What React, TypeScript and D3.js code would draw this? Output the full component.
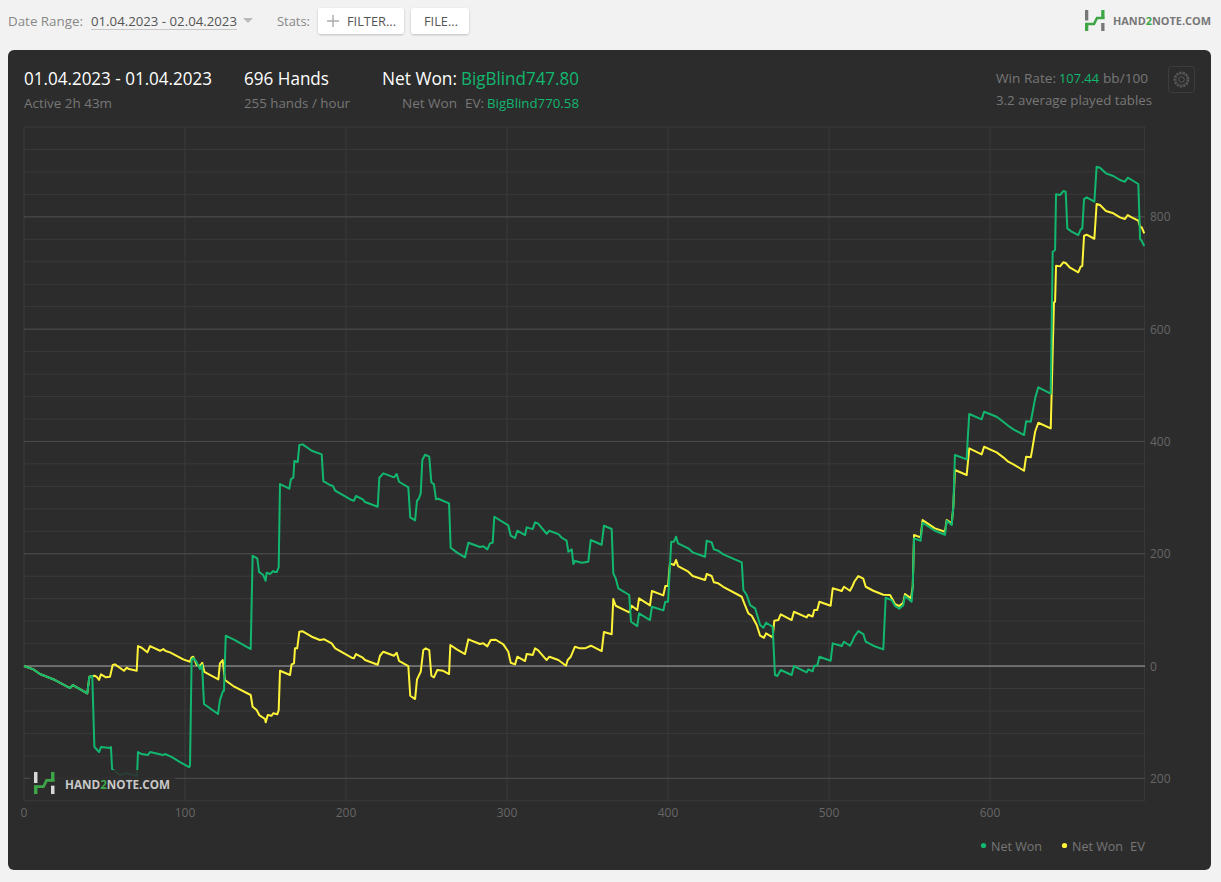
import React from "react";
import * as d3 from "d3";

const sharedStart: [number, number][] = [[0,0],[5.8,-5.9],[9.9,-14.2],[19.3,-24.9],[28.6,-39.2],[30.4,-33.8],[39.3,-48.6],[40.6,-19.1],[42.4,-17.8]];

const netWon: [number, number][] = [...sharedStart,
[43.7,-143.7],[46.6,-153.2],[47.8,-144.3],[53.4,-146],[54,-144.3],[54.7,-183.4],[59.6,-194.1],[63.4,-190.6],[65.8,-192.3],[70.2,-195.9],[70.8,-153.2],[73.1,-156.7],[77,-158.5],[78.3,-153.2],[86.3,-158.5],[87.6,-156.7],[91.9,-162.1],[96.9,-171],[102.5,-179.9],[103.1,-178.1],[104.1,10.7],[105,14.2],[106.8,8.9],[109.3,-5.3],[110.6,1.8],[111.8,-67.7],[120.5,-85.5],[121.7,-60.6],[123.6,-44.5],[124.2,-44.5],[125.3,54],[131,46.3],[140.8,30.3],[142,196.4],[144.9,191.8],[146,167.4],[148.6,162.1],[150.1,151.9],[150.7,166.2],[152.8,163.9],[154.8,169.2],[155.9,167.4],[157,167.4],[158.2,176.3],[159,324.1],[164.8,315.8],[165.8,333],[167.3,335.4],[167.9,365.1],[170,363.3],[171,393.6],[173.1,394.8],[178.7,383.4],[184.9,377],[185.9,329.5],[190,322.4],[191.9,320.6],[193.3,312.2],[203.5,295.6],[204.9,294.4],[206.2,302.8],[210.4,296.9],[211.8,292.1],[219.7,283.7],[220.7,335.4],[223.2,343.2],[229.8,336.1],[231.5,342],[232.9,328.2],[238.7,318.3],[239.9,264.8],[242.9,259.5],[244.1,294.4],[245.1,297.4],[246.4,307.6],[247.4,366.9],[249.1,376.3],[251.7,372.8],[253,327.2],[254.6,323.6],[255.9,296.9],[257.3,298],[264,289.8],[265,210.7],[268.8,202.5],[273.9,193.6],[276,219.6],[283.2,211.9],[285.3,213.2],[287.8,207.8],[289.4,218.5],[291.1,219.6],[292.1,265.9],[300.8,250.6],[302.3,232.1],[305,228],[306.4,241],[311.2,233.3],[312.2,247],[314.3,245.2],[316,244],[317.4,255.9],[319.2,254.1],[324.6,235.6],[326.3,240.9],[331.9,235],[334,228.5],[337,223.2],[338.1,203.6],[340.2,207.8],[341.2,181.7],[342.2,187],[346.4,184],[350.5,185.8],[352,224.4],[358.8,216],[360.2,249.9],[365,244],[366,165.1],[367.5,156.2],[369.1,138.4],[375.9,126.5],[377,78.9],[380.9,71.2],[382,93.9],[388.8,81.9],[390,105.6],[397.1,99.2],[398.3,114.5],[400,114.5],[402,221.4],[403.7,221.4],[405,230.3],[406.2,218.5],[412.6,209.6],[415.3,202.5],[423,194.7],[424,223.2],[427.1,220.3],[428.5,207.8],[431.2,205.3],[434.3,198.9],[445.8,184.7],[446.8,135.4],[448.9,126.5],[451,108.6],[454.1,102.8],[457.2,73],[459.2,68.2],[460.9,77.1],[465,70],[466.4,-16],[467.9,-17.8],[470,-7.1],[476.8,-16],[478.2,0],[486.1,-11.2],[487.1,-5.9],[489.8,-9.4],[490.8,0.5],[492.7,0.5],[494,16.6],[501,9.4],[502.3,40.4],[507.9,35.6],[509.3,43.3],[513,36.2],[514.7,45.1],[515.7,52.2],[518.2,62.3],[521.3,57],[522.8,43.3],[527.5,36.2],[533.7,29.7],[535.2,121.6],[538.9,117.5],[541,106.9],[543.6,102],[546.1,108.1],[547.2,124.7],[551.3,114.5],[552,141.2],[552.8,227.4],[556.9,223.2],[558.1,255.2],[565.8,241],[572,233.8],[573.1,258.8],[576.2,251.1],[577.2,283.7],[578.2,375.8],[585.5,368.1],[586.1,402.5],[587.1,448.8],[594.8,439.4],[596.3,452.9],[604.1,444],[608.2,435.1],[611.3,428],[614.5,421.6],[621.1,411.4],[622.4,435.8],[625.3,435.1],[626.2,448.8],[628,476.8],[630,496.4],[637.7,485],[638.9,737.9],[640.4,740.9],[641,840.1],[643.5,838.9],[645.5,846],[647,844.7],[648,779.5],[650.1,774.7],[654.8,767.6],[656.3,777.8],[657.3,778.9],[658.4,831.7],[660,834.7],[664.8,826.9],[666.2,889.3],[668.3,887.5],[672,877.5],[676.6,872.7],[680.7,865.6],[683.8,862.6],[685.5,869.7],[688,865.6],[692.1,858.5],[693.2,760.5],[694.2,757.5],[695.8,747.8]];

const netWonEV: [number, number][] = [...sharedStart,
[44.1,-17.3],[45.3,-19.6],[46.6,-24.9],[47.8,-14.8],[50.9,-20.1],[53.4,-19.1],[55.1,1.8],[56.5,3],[62.1,-8.4],[63.8,-3],[65.2,-5.3],[70,-8.4],[70.8,35.6],[73.1,32.6],[76.6,24.4],[78.3,35.6],[84.5,27.2],[86.5,30.3],[88,26.7],[90.7,24.4],[98.9,11.9],[103.1,7.7],[104.1,15.5],[105.1,16.6],[107.3,1.8],[109.3,0],[110.7,5.9],[112,-10.2],[120.7,-23.7],[121.7,4.8],[123.4,10.7],[124.8,-24.9],[130,-35.6],[140.8,-51.6],[142,-72.5],[144.5,-78.4],[146.1,-87.3],[149.7,-94.4],[150.1,-100.3],[151.4,-87.3],[153.8,-88.5],[154.8,-84.2],[157.3,-86],[158.2,-78.4],[159,-8.4],[165.2,-16],[166.2,3],[167.7,4.8],[168.3,31.5],[169.7,31.5],[171,61.1],[173.1,61.8],[178.7,52.2],[183.8,46.3],[186.5,47.6],[191.1,40.4],[193.3,31.5],[203.5,14.8],[204.9,13.7],[206.2,21.4],[210.4,14.8],[211.8,10.7],[219.7,2.3],[221.1,18.3],[223.2,25.5],[229.8,18.3],[231.5,23.7],[232.9,9.4],[238.7,0],[239.9,-52.9],[242.9,-58.8],[244.1,-23.7],[246.4,-10.2],[248,28.5],[249.5,31.5],[251.7,28.5],[253,-17.3],[254.6,-20.1],[256.7,-7.1],[260.4,-8.4],[264,-14.2],[264.8,37.4],[268.8,29.7],[273.9,21.4],[276,47.6],[283.2,39.2],[285.3,40.4],[287.8,35.1],[289.9,46.3],[293,46.8],[297.7,38.6],[300.8,25.5],[302.3,5.9],[305,3],[306.4,16.6],[311.2,8.9],[312.2,21.4],[314.3,20.5],[316,19.6],[317.4,31.5],[319.2,28.5],[324.6,10.7],[326.3,16.6],[331.9,10.7],[336.6,0.5],[337.7,10.7],[339.6,16.6],[342.2,34.4],[345.3,31.5],[348.4,31.5],[352.1,36.2],[358.8,26.7],[360.2,60.6],[365,56.5],[366,119.3],[367.5,107.4],[375.9,95.6],[377.4,107.4],[380.9,99.7],[382,120.6],[388.8,108.1],[390,133.6],[397.1,125.9],[398.3,142.5],[400,142.5],[401.2,182.9],[403.7,179.9],[405,188.8],[406.2,178.1],[412.6,168],[415.3,160.3],[423,153.2],[424,163.9],[427.1,160.3],[428.5,149.1],[431.2,147.3],[434.3,141.2],[445.8,123.4],[447.8,108.6],[449.9,93.9],[452,89.6],[455.1,73],[457.2,54],[459.6,50.4],[460.9,58.2],[465,51.1],[466,80.7],[468.5,81.9],[470,92.1],[476.8,81.9],[478.2,96.7],[486.1,86.7],[487.1,91.4],[489.8,88.3],[490.8,99.7],[492.7,99.7],[494,114.5],[501,107.4],[502.3,138.4],[507.9,133.6],[509.3,141.2],[513,134.1],[514.7,143],[515.7,150.1],[518.2,160.3],[521.3,155.5],[522.8,141.2],[527.5,134.1],[533.7,127],[537.9,126.5],[541,110.4],[543.6,106.9],[546.1,112.7],[547.2,128.2],[550.9,120.6],[552,141.2],[552.8,233.3],[556.9,229.2],[558.1,260],[565.8,245.2],[572,239.2],[573.1,260],[576.2,254.1],[577.2,283.7],[578.2,349.1],[585.5,340.2],[587.1,387.7],[594.8,377],[596.3,390.6],[604.1,380.6],[608.2,371.7],[611.3,363.9],[614.5,359.2],[621.1,347.8],[622.4,372.8],[625.3,371.7],[626.2,385.9],[628,417.3],[630,433.3],[637.7,423.3],[639.7,647.7],[640.4,648.8],[641,712.9],[643.5,711.8],[645.5,719],[647,717.7],[649.7,709.4],[654.8,701.2],[656.3,711.2],[657.3,712.4],[658.4,766.4],[660,768.2],[664.8,761],[666.2,822.8],[668.3,821],[672,810.4],[676.6,806.3],[680.7,799.1],[683.8,796.1],[685.5,803.2],[688,799.1],[692.1,793.1],[693.2,782.4],[694.2,781.3],[695.8,770.6]];

const xTicks = [0, 100, 200, 300, 400, 500, 600];
const yMajor = [-200, 0, 200, 400, 600, 800];
const yMinor = d3.range(-240, 961, 40);

const GREEN = "#12b76f";
const YELLOW = "#fdf338";
const FONT = "'Open Sans', 'Noto Sans', sans-serif";

const x = d3.scaleLinear().domain([0, 696]).range([24, 1144.6]);
const y = d3.scaleLinear().domain([-240, 960]).range([800.8, 127]);
const line = d3.line<[number, number]>().x((d) => x(d[0])).y((d) => y(d[1])).curve(d3.curveLinear);

function T({ px, py, w, size = 13, fill = "#888", weight = 400, anchor, children }: any) {
  return (
    <text x={px} y={py} fontSize={size} fill={fill} fontWeight={weight} fontFamily={FONT} textAnchor={anchor}
      {...(w ? { textLength: w, lengthAdjust: "spacingAndGlyphs" } : {})}>
      {children}
    </text>
  );
}

function Logo({ px, py, s, bar }: { px: number; py: number; s: number; bar: string }) {
  const g = "#3fa648";
  return (
    <g transform={`translate(${px},${py}) scale(${s})`}>
      <rect x={0} y={0} width={3.3} height={10.5} fill={bar} />
      <rect x={0} y={13} width={3.3} height={8} fill={g} />
      <rect x={16.2} y={0} width={3.3} height={8.5} fill={g} />
      <rect x={16.2} y={13} width={3.3} height={8} fill={bar} />
      <path d="M0 14 L9 14 L12 8 L19.5 8" fill="none" stroke={g} strokeWidth={2.6} />
    </g>
  );
}

export default function App() {
  return (
    <svg width={1221} height={882} style={{ position: "fixed", left: 0, top: 0, display: "block" }}>
      <defs>
        <filter id="btn" x="-10%" y="-20%" width="120%" height="150%">
          <feDropShadow dx="0" dy="1" stdDeviation="1.2" floodColor="#000" floodOpacity="0.22" />
        </filter>
      </defs>
      <rect width={1221} height={882} fill="#f2f2f2" />

      {/* toolbar */}
      <T px={8} py={26} w={75} fill="#888">Date Range:</T>
      <T px={91} py={26} w={146} fill="#555">01.04.2023 - 02.04.2023</T>
      <line x1={91} x2={237} y1={29.5} y2={29.5} stroke="#c8c8c8" />
      <path d="M243 18 L253 18 L248 23 Z" fill="#bbb" />
      <T px={277} py={26} w={33} fill="#888">Stats:</T>
      <rect x={318} y={8} width={86} height={26} rx={3} fill="#fff" filter="url(#btn)" />
      <rect x={411} y={8} width={58} height={26} rx={3} fill="#fff" filter="url(#btn)" />
      <path d="M333 15 V27 M327 21 H339" stroke="#aaa" strokeWidth={1.4} />
      <T px={347} py={26} w={49} size={12} fill="#555">FILTER...</T>
      <T px={424} py={26} w={34} size={12} fill="#555">FILE...</T>
      <Logo px={1085} py={10} s={1} bar="#777" />
      <text x={1113} y={25} fontSize={10.9} fontWeight={700} fontFamily={FONT} fill="#777">
        HAND<tspan fill="#3fa648">2</tspan>NOTE.COM
      </text>

      {/* panel */}
      <rect x={8} y={50} width={1203} height={820} rx={6} fill="#2c2c2c" />

      {/* header */}
      <T px={24} py={85} w={188} size={18} fill="#fff">01.04.2023 - 01.04.2023</T>
      <T px={244} py={85} w={85} size={18} fill="#fff">696 Hands</T>
      <T px={382} py={85} w={75} size={18} fill="#fff">Net Won:</T>
      <T px={461} py={85} w={118} size={18} fill={GREEN}>BigBlind747.80</T>
      <T px={24} py={108} w={88} fill="#777">Active 2h 43m</T>
      <T px={244} py={108} w={106} fill="#777">255 hands / hour</T>
      <T px={402} py={108} w={55} fill="#777">Net Won</T>
      <T px={465} py={108} w={19} fill="#777">EV:</T>
      <T px={487} py={108} w={92} fill={GREEN}>BigBlind770.58</T>
      <T px={996} py={83} w={60} fill="#777">Win Rate:</T>
      <T px={1059} py={83} w={40} fill={GREEN}>107.44</T>
      <T px={1103} py={83} w={45} fill="#777">bb/100</T>
      <T px={996} py={105} w={156} fill="#777">3.2 average played tables</T>
      <rect x={1168.5} y={66.5} width={26} height={26} rx={3} fill="none" stroke="#3d3d3d" />
      <circle cx={1181.5} cy={79.5} r={2.8} fill="none" stroke="#5a5a5a" />
      <circle cx={1181.5} cy={79.5} r={7} fill="none" stroke="#5a5a5a" strokeWidth={1.8} strokeDasharray="2.4 1.0" />
      <circle cx={1181.5} cy={79.5} r={5.6} fill="none" stroke="#5a5a5a" strokeWidth={0.8} />

      {/* grid */}
      {yMinor.map((v) => (
        <line key={v} x1={24} x2={1145} y1={y(v)} y2={y(v)} stroke="#3a3a3a" />
      ))}
      {[...xTicks, 696].map((v) => (
        <line key={v} x1={x(v)} x2={x(v)} y1={127} y2={800.8} stroke="#3a3a3a" />
      ))}
      {yMajor.map((v) => (
        <line key={v} x1={24} x2={1145} y1={y(v)} y2={y(v)} stroke={v === 0 ? "#a8a8a8" : "#4c4c4c"} />
      ))}

      {/* series */}
      <path d={line(netWonEV) ?? ""} fill="none" stroke={YELLOW} strokeWidth={2} strokeLinejoin="round" />
      <path d={line(netWon) ?? ""} fill="none" stroke={GREEN} strokeWidth={2} strokeLinejoin="round" />

      {/* watermark */}
      <rect x={30} y={770} width={145} height={30} rx={2} fill="#2c2c2c" fillOpacity={0.88} />
      <Logo px={34} py={772} s={1.05} bar="#d8d8d8" />
      <text x={65} y={789} fontSize={11.7} fontWeight={700} fontFamily={FONT} fill="#c8c8c8">
        HAND<tspan fill="#3fa648">2</tspan>NOTE.COM
      </text>

      {/* axes */}
      {xTicks.map((v) => (
        <T key={v} px={x(v)} py={817} size={12} fill="#666" anchor="middle">{v}</T>
      ))}
      {yMajor.map((v) => (
        <T key={v} px={1150} py={y(v) + 4.5} size={12} fill="#666">{Math.abs(v)}</T>
      ))}

      {/* legend */}
      <circle cx={983.5} cy={845.5} r={2.6} fill={GREEN} />
      <T px={991} py={851} w={51} fill="#777">Net Won</T>
      <circle cx={1064.5} cy={845.5} r={2.6} fill={YELLOW} />
      <T px={1072} py={851} w={51} fill="#777">Net Won</T>
      <T px={1130} py={851} w={15} fill="#777">EV</T>
    </svg>
  );
}
